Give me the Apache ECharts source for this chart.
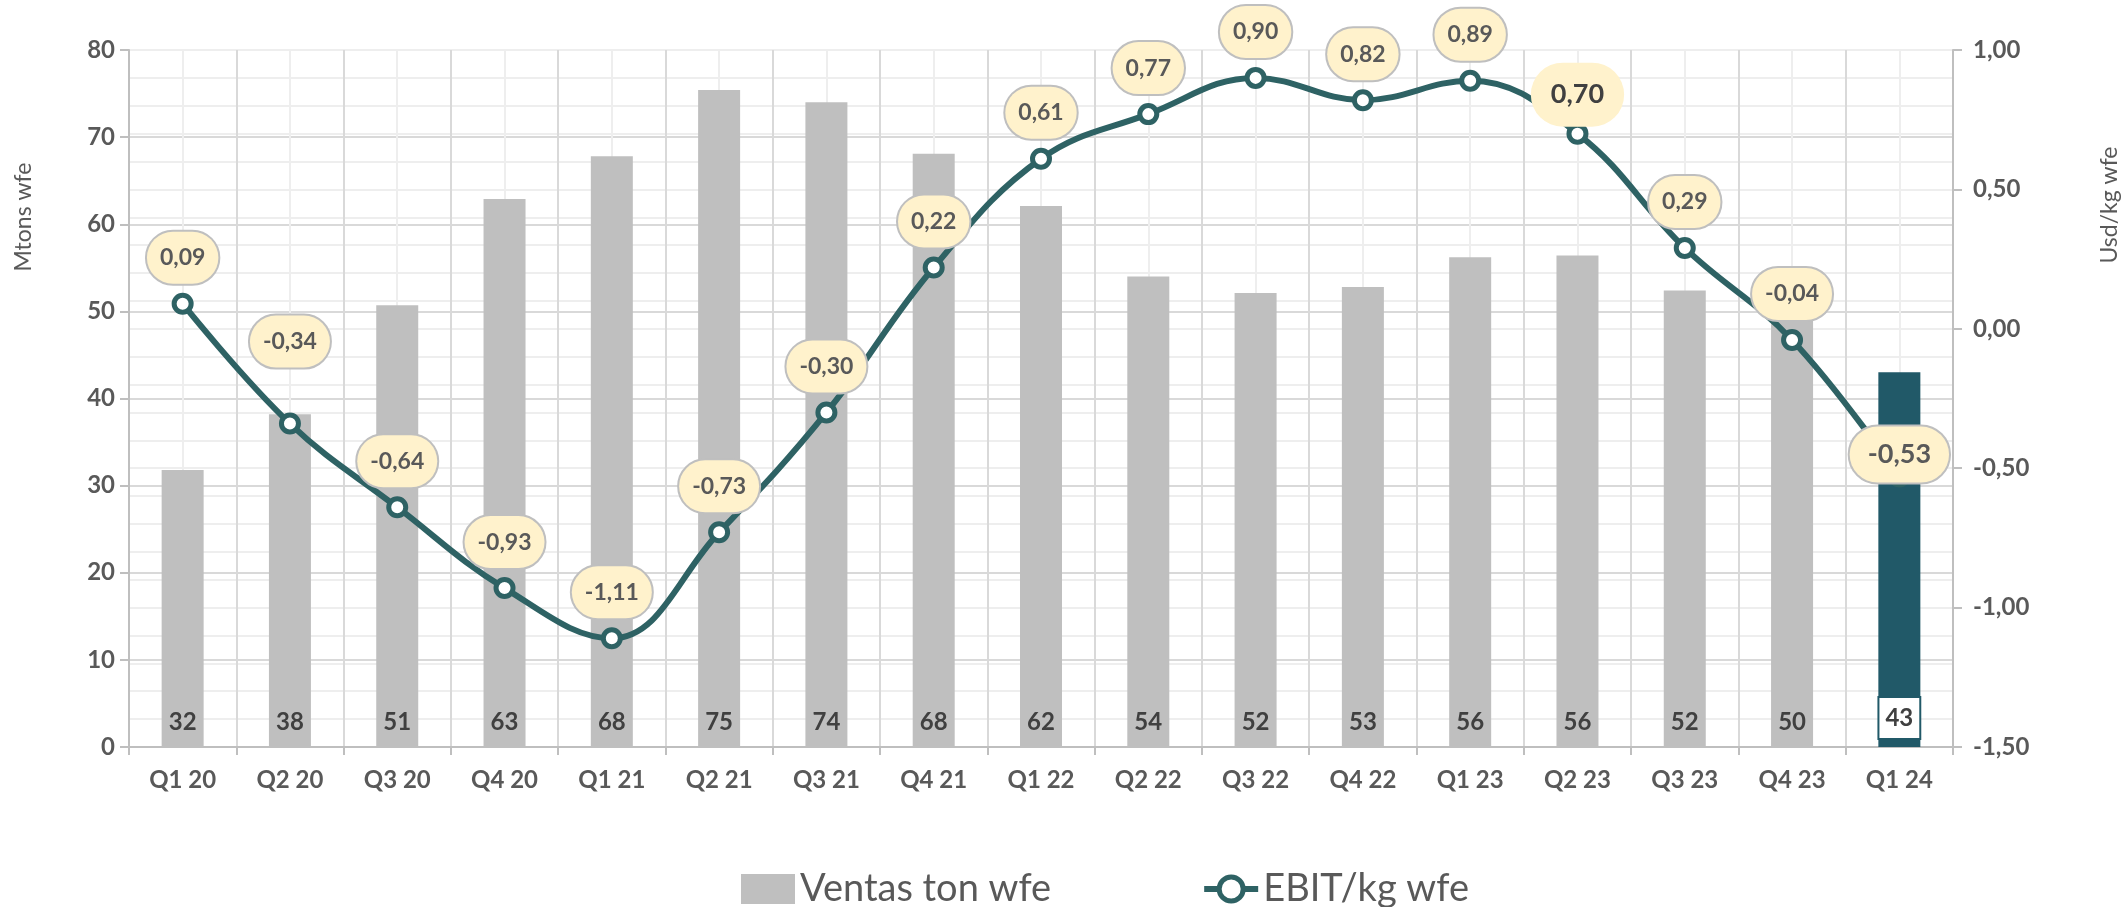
<!DOCTYPE html>
<html>
<head>
<meta charset="utf-8">
<script src="https://cdn.jsdelivr.net/npm/echarts@6/dist/echarts.min.js"></script>
<style>
html,body{margin:0;padding:0;background:#fff;}
#chart{width:2126px;height:907px;}
</style>
</head>
<body>
<div id="chart"></div>
<script>
const categories = ['Q1 20','Q2 20','Q3 20','Q4 20','Q1 21','Q2 21','Q3 21','Q4 21','Q1 22','Q2 22','Q3 22','Q4 22','Q1 23','Q2 23','Q3 23','Q4 23','Q1 24'];
const ventas = [31.8, 38.2, 50.7, 62.9, 67.8, 75.4, 74.0, 68.1, 62.1, 54.0, 52.1, 52.8, 56.2, 56.4, 52.4, 49.6, 43.0];
const ebit = [0.09, -0.34, -0.64, -0.93, -1.11, -0.73, -0.30, 0.22, 0.61, 0.77, 0.90, 0.82, 0.89, 0.70, 0.29, -0.04, -0.53];
const leftTicks = [0, 10, 20, 30, 40, 50, 60, 70, 80];
const rightTicks = [-1.5, -1.0, -0.5, 0, 0.5, 1.0];

const FONT = 'Lato';
const GRAY_TXT = '#595959';
const LINE_C = '#2E6264';
const LAST_C = '#215968';
const fmt = v => v.toFixed(2).replace('.', ',');

const barData = ventas.map((v, i) => {
  if (i === ventas.length - 1) {
    return {
      value: v,
      itemStyle: { color: LAST_C },
      label: {
        backgroundColor: '#fff', borderColor: LAST_C, borderWidth: 2,
        padding: [7, 6, 7, 6], lineHeight: 26, distance: 9
      }
    };
  }
  return v;
});

const lineData = ebit.map((v, i) => {
  const item = { value: v };
  if (i === 1) item.label = { distance: 45 };
  if (i === 13) item.label = {
    borderWidth: 0, fontSize: 27, color: '#404040', padding: [20, 20], distance: -4
  };
  if (i === 16) item.label = { fontSize: 27, padding: [16, 18], distance: -17 };
  return item;
});

const chart = echarts.init(document.getElementById('chart'));
chart.setOption({
  animation: false,
  backgroundColor: '#fff',
  grid: { left: 129, right: 173, top: 50, bottom: 160, containLabel: false },
  xAxis: [{
    type: 'category',
    data: categories,
    boundaryGap: true,
    axisLine: { show: true, onZero: false, lineStyle: { color: '#bfbfbf', width: 2 } },
    axisTick: { show: true, length: 8, lineStyle: { color: '#bfbfbf', width: 2 } },
    axisLabel: { color: GRAY_TXT, fontFamily: FONT, fontWeight: 'bold', fontSize: 24, margin: 21 },
    splitLine: { show: true, lineStyle: { color: '#d9d9d9', width: 2 } }
  }, {
    type: 'value',
    min: -0.5, max: 16.5, interval: 1,
    show: true,
    axisLine: { show: false, onZero: false }, axisTick: { show: false }, axisLabel: { show: false },
    splitLine: { show: false },
    minorTick: { show: false, splitNumber: 2 },
    minorSplitLine: { show: true, lineStyle: { color: '#eeeeee', width: 2 } }
  }],
  yAxis: [{
    type: 'value',
    min: 0, max: 80, interval: 10,
    axisLine: { show: true, onZero: false, lineStyle: { color: '#bfbfbf', width: 2 } },
    axisTick: { show: true, length: 9, lineStyle: { color: '#bfbfbf', width: 2 } },
    axisLabel: {
      color: GRAY_TXT, fontFamily: FONT, fontWeight: 'bold', fontSize: 24, margin: 14,
      formatter: v => leftTicks.includes(v) ? String(v) : ''
    },
    splitLine: { show: true, lineStyle: { color: '#d9d9d9', width: 2 } }
  }, {
    type: 'value',
    min: -1.5, max: 1.0, interval: 0.5,
    axisLine: { show: true, onZero: false, lineStyle: { color: '#bfbfbf', width: 2 } },
    axisTick: { show: true, length: 9, lineStyle: { color: '#bfbfbf', width: 2 } },
    axisLabel: {
      color: GRAY_TXT, fontFamily: FONT, fontWeight: 'bold', fontSize: 24, margin: 20,
      formatter: v => rightTicks.some(t => Math.abs(t - v) < 1e-9) ? fmt(v) : ''
    },
    splitLine: { show: true, lineStyle: { color: '#eeeeee', width: 2 } },
    minorTick: { show: false, splitNumber: 5 },
    minorSplitLine: { show: true, lineStyle: { color: '#eeeeee', width: 2 } }
  }],
  legend: {
    left: 736, top: 865,
    itemWidth: 54, itemHeight: 30, itemGap: 150,
    textStyle: { color: GRAY_TXT, fontFamily: FONT, fontSize: 38 },
    data: [
      { name: 'Ventas ton wfe', icon: 'rect' },
      { name: 'EBIT/kg wfe', lineStyle: { width: 6, color: LINE_C }, itemStyle: { color: '#fff', borderColor: LINE_C, borderWidth: 5 } }
    ]
  },
  graphic: [{
    type: 'text', rotation: Math.PI / 2,
    style: { text: 'Mtons wfe', fill: GRAY_TXT, font: '23px Lato', textAlign: 'center', textVerticalAlign: 'middle' },
    x: 24, y: 217
  }, {
    type: 'text', rotation: Math.PI / 2,
    style: { text: 'Usd/kg wfe', fill: GRAY_TXT, font: '23px Lato', textAlign: 'center', textVerticalAlign: 'middle' },
    x: 2110, y: 205
  }],
  series: [{
    name: 'Ventas ton wfe',
    type: 'bar',
    xAxisIndex: 0, yAxisIndex: 0,
    barWidth: 42,
    itemStyle: { color: '#bfbfbf' },
    data: barData,
    label: {
      show: true, position: 'insideBottom', distance: 13,
      color: '#404040', fontFamily: FONT, fontWeight: 'bold', fontSize: 24,
      formatter: p => String(Math.round(p.value))
    },
    z: 2
  }, {
    name: 'EBIT/kg wfe',
    type: 'line',
    xAxisIndex: 0, yAxisIndex: 1,
    smooth: 0.4,
    data: lineData,
    symbol: 'circle',
    symbolSize: 17,
    lineStyle: { color: LINE_C, width: 6 },
    itemStyle: { color: '#ffffff', borderColor: LINE_C, borderWidth: 5 },
    label: {
      show: true, position: 'top', distance: 9,
      formatter: p => fmt(p.value),
      color: GRAY_TXT, fontFamily: FONT, fontWeight: 'bold', fontSize: 23, lineHeight: 24,
      backgroundColor: '#FFF2CC', borderColor: '#BFBFBF', borderWidth: 2,
      borderRadius: 40, padding: [14, 13]
    },
    labelLayout: { hideOverlap: false },
    z: 5
  }]
});
</script>
</body>
</html>
